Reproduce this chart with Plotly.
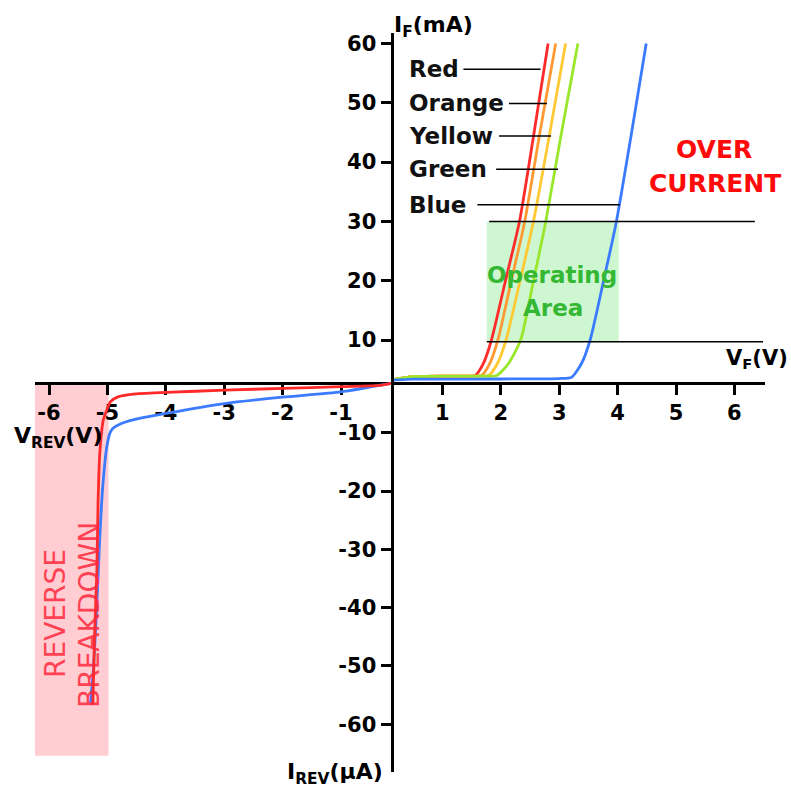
import plotly.graph_objects as go

W, H = 791, 789
OFF = 0  # body margin removed via post_script below

# ---------------- data ----------------
x_neg_ticks = [-6, -5, -4, -3, -2, -1]
x_pos_ticks = [1, 2, 3, 4, 5, 6]
y_pos_ticks = [10, 20, 30, 40, 50, 60]
y_neg_ticks = [-10, -20, -30, -40, -50, -60]

# forward characteristics (V, mA)
red_v = [0.14, 0.5, 1.0, 1.4, 1.56, 1.70, 1.84, 2.08, 2.32, 2.57, 2.81]
red_ma = [3.3, 3.8, 3.9, 3.9, 4.0, 6.0, 10, 20, 30, 45, 60]
orange_v = [0.14, 0.5, 1.0, 1.5, 1.67, 1.81, 1.95, 2.18, 2.41, 2.67, 2.94]
orange_ma = [3.3, 3.8, 3.9, 3.9, 4.0, 6.0, 10, 20, 30, 45, 60]
yellow_v = [0.14, 0.5, 1.0, 1.6, 1.79, 1.94, 2.09, 2.33, 2.56, 2.84, 3.11]
yellow_ma = [3.3, 3.8, 3.9, 3.9, 4.0, 6.0, 10, 20, 30, 45, 60]
green_v = [0.14, 0.5, 1.0, 1.7, 1.93, 2.13, 2.34, 2.56, 2.77, 3.04, 3.32]
green_ma = [3.3, 3.8, 3.9, 3.9, 4.0, 6.0, 10, 20, 30, 45, 60]
blue_v = [0.14, 0.5, 1.5, 2.5, 3.0, 3.21, 3.38, 3.53, 3.76, 3.98, 4.24, 4.49]
blue_ma = [3.2, 3.4, 3.4, 3.45, 3.5, 3.7, 6.0, 10, 20, 30, 45, 60]

# reverse characteristics (V, uA)
red_rev_v = [-0.13, -0.33, -1.0, -2.0, -3.0, -4.0, -4.56, -4.83, -4.95, -5.01, -5.07,
             -5.13, -5.16, -5.18, -5.22, -5.25]
red_rev_ua = [-1.5, -1.9, -2.1, -2.4, -2.7, -3.1, -3.4, -3.9, -4.7, -6.1, -7.8,
              -13.5, -22, -33.6, -45, -56.7]
blue_rev_v = [-0.13, -1.0, -2.0, -3.0, -4.0, -4.56, -4.78, -4.90, -4.95, -5.01, -5.08,
              -5.13, -5.18, -5.24, -5.29]
blue_rev_ua = [-1.5, -3.0, -3.9, -5.0, -6.7, -7.8, -8.5, -9.2, -9.9, -12.4, -19.3,
               -27.8, -39.2, -50.7, -56.4]

# labels with leader lines (name, mA level, leader start V, leader end V)
label_names = ["Red", "Orange", "Yellow", "Green", "Blue"]
label_ma = [55.65, 49.9, 44.4, 38.8, 32.8]
leader_x0 = [1.36, 2.14, 1.97, 1.92, 1.60]
leader_x1 = [2.68, 2.79, 2.86, 2.98, 4.04]

# operating area / over current limits
op_v = [1.76, 4.02]
op_ma = [9.7, 30]
limit_lines_ma = [30, 9.7]
limit_lines_v0 = [1.80, 1.76]
limit_lines_v1 = [6.35, 6.49]

# reverse breakdown band (V) and its depth (uA)
rb_v = [-6.3, -4.98]
rb_ua = [-65.4, -1.3]

colors = {"red": "#ff2a2a", "orange": "#ff9a33", "yellow": "#ffc933",
          "green": "#99e62a", "blue": "#3a7bff"}

FONT = "DejaVu Sans"


def px_x(px):
    return (px - OFF) / W


def px_y(py):
    return 1 - (py - OFF) / H


# ---------------- figure ----------------
fig = go.Figure()

line_w = 2.8
fwd = [("red", red_v, red_ma), ("orange", orange_v, orange_ma),
       ("yellow", yellow_v, yellow_ma), ("green", green_v, green_ma),
       ("blue", blue_v, blue_ma)]
for name, xs, ys in fwd:
    fig.add_trace(go.Scatter(x=xs, y=ys, mode="lines", xaxis="x2", yaxis="y2",
                             line=dict(color=colors[name], width=line_w, shape="spline",
                                       smoothing=0.6),
                             showlegend=False, hoverinfo="skip"))

fig.add_trace(go.Scatter(x=blue_rev_v, y=blue_rev_ua, mode="lines", xaxis="x3", yaxis="y3",
                         line=dict(color=colors["blue"], width=line_w, shape="spline",
                                   smoothing=0.6),
                         showlegend=False, hoverinfo="skip"))
fig.add_trace(go.Scatter(x=red_rev_v, y=red_rev_ua, mode="lines", xaxis="x3", yaxis="y3",
                         line=dict(color=colors["red"], width=line_w, shape="spline",
                                   smoothing=0.6),
                         showlegend=False, hoverinfo="skip"))
# placeholders so that every quadrant exists
fig.add_trace(go.Scatter(x=[None], y=[None], xaxis="x", yaxis="y", showlegend=False,
                         hoverinfo="skip"))
fig.add_trace(go.Scatter(x=[None], y=[None], xaxis="x4", yaxis="y4", showlegend=False,
                         hoverinfo="skip"))

# quadrant borders in reference pixels
PX_L, PX_MID, PX_R = 35, 393.5, 765
PY_T, PY_MID, PY_B = 33, 381.5, 772

xL = [px_x(PX_L), px_x(PX_MID)]
xR = [px_x(PX_MID), px_x(PX_R)]
yT = [px_y(PY_MID), px_y(PY_T)]
yB = [px_y(PY_B), px_y(PY_MID)]

# axis calibrations
x_neg_range = [(PX_L - 399.4) / 58.4, (PX_MID - 399.4) / 58.4]
x_pos_range = [(PX_MID - 384) / 58.4, (PX_R - 384) / 58.4]
y_pos_range = [(399.3 - PY_MID) / 5.93, (399.3 - PY_T) / 5.93]
y_neg_range = [-(PY_B - 374.4) / 5.83, -(PY_MID - 374.4) / 5.83]

tickfont = dict(family=FONT, size=21, color="black", weight="bold")
axis_common = dict(showgrid=False, zeroline=False, showline=True, linecolor="black",
                   linewidth=3, ticks="outside", ticklen=10, tickwidth=3,
                   tickcolor="black", tickfont=tickfont, fixedrange=True)
hidden = dict(visible=False, showgrid=False, zeroline=False, fixedrange=True)

fig.update_layout(
    width=W, height=H,
    margin=dict(l=0, r=0, t=0, b=0),
    paper_bgcolor="white", plot_bgcolor="rgba(0,0,0,0)",
    showlegend=False,
    xaxis=dict(domain=xL, range=x_neg_range, anchor="y",
               tickmode="array", tickvals=x_neg_ticks,
               ticktext=[str(v) for v in x_neg_ticks], **axis_common),
    yaxis=dict(domain=yT, range=y_pos_range, anchor="x", **hidden),
    xaxis2=dict(domain=xR, range=x_pos_range, anchor="y2",
                tickmode="array", tickvals=x_pos_ticks,
                ticktext=[str(v) for v in x_pos_ticks], **axis_common),
    yaxis2=dict(domain=yT, range=y_pos_range, anchor="x2",
                tickmode="array", tickvals=y_pos_ticks,
                ticktext=[str(v) for v in y_pos_ticks], **axis_common),
    xaxis3=dict(domain=xL, range=x_neg_range, anchor="y3", **hidden),
    yaxis3=dict(domain=yB, range=y_neg_range, anchor="x3", **hidden),
    xaxis4=dict(domain=xR, range=x_pos_range, anchor="y4", **hidden),
    yaxis4=dict(domain=yB, range=y_neg_range, anchor="x4",
                tickmode="array", tickvals=y_neg_ticks,
                ticktext=[str(v) for v in y_neg_ticks], **axis_common),
)

# shaded regions
fig.add_shape(type="rect", xref="x2", yref="y2", x0=op_v[0], x1=op_v[1],
              y0=op_ma[0], y1=op_ma[1], fillcolor="#cdf6d1", line=dict(width=0),
              layer="below")
# breakdown band: drawn under everything (paper-referenced vertically)
rb_y = [yB[0] + (yB[1] - yB[0]) * (u - y_neg_range[0]) / (y_neg_range[1] - y_neg_range[0])
        for u in rb_ua]
fig.add_shape(type="rect", xref="x3", yref="paper", x0=rb_v[0], x1=rb_v[1],
              y0=rb_y[0], y1=rb_y[1], fillcolor="#ffcdd2", line=dict(width=0),
              layer="below")

# limit lines
for yv, a, b in zip(limit_lines_ma, limit_lines_v0, limit_lines_v1):
    fig.add_shape(type="line", xref="x2", yref="y2", x0=a, x1=b, y0=yv, y1=yv,
                  line=dict(color="black", width=1.5))

# colour labels with leader lines
for name, yv, a, b in zip(label_names, label_ma, leader_x0, leader_x1):
    fig.add_shape(type="line", xref="x2", yref="y2", x0=a, x1=b, y0=yv, y1=yv,
                  line=dict(color="black", width=1.5))
    fig.add_annotation(x=0.39, y=yv, xref="x2", yref="y2", text=name, showarrow=False,
                       xanchor="left", yanchor="middle",
                       font=dict(family=FONT, size=23, color="#111", weight="bold"))


def ann(px, py, text, xanchor="center", yanchor="middle", size=22, color="black",
        weight="bold", angle=0):
    fig.add_annotation(x=px_x(px), y=px_y(py), xref="paper", yref="paper", text=text,
                       showarrow=False, xanchor=xanchor, yanchor=yanchor,
                       textangle=angle,
                       font=dict(family=FONT, size=size, color=color, weight=weight))


ann(392, 26, "I<sub>F</sub>(mA)", xanchor="left")
ann(790, 359, "V<sub>F</sub>(V)", xanchor="right", size=21)
ann(12, 437, "V<sub>REV</sub>(V)", xanchor="left")
ann(385, 773, "I<sub>REV</sub>(µA)", xanchor="right")

ann(714, 149, "OVER", size=25, color="#ff0a0a")
ann(715, 183, "CURRENT", size=25, color="#ff0a0a")
ann(552, 275, "Operating", size=23, color="#34b834")
ann(553, 308, "Area", size=23, color="#34b834")

ann(55, 614, "REVERSE", size=28, color="rgba(255,40,60,0.85)", weight="normal", angle=-90)
ann(89, 615, "BREAKDOWN", size=28, color="rgba(255,40,60,0.85)", weight="normal", angle=-90)

fig.write_html(
    "out.html",
    config={"displayModeBar": False, "staticPlot": True},
    post_script="document.body.style.margin='0';"
                "document.documentElement.style.overflow='hidden';",
)
